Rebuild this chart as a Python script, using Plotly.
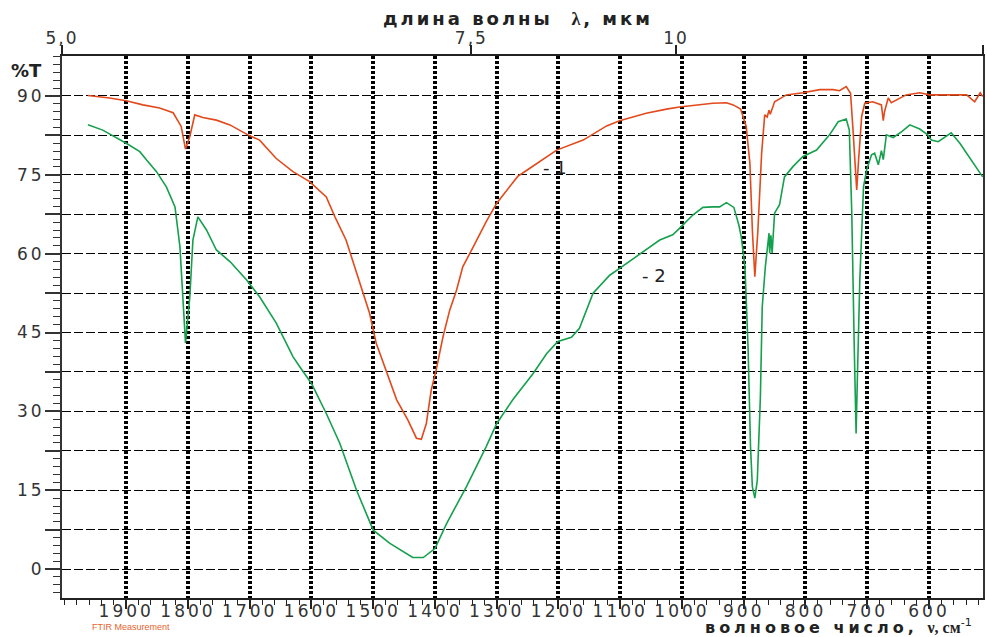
import plotly.graph_objects as go

# Wavenumber axis (cm^-1) and transmittance (%T) for the two spectra
nu_1 = [1962, 1945, 1927, 1900, 1873, 1846, 1824, 1811, 1804, 1797, 1789, 1776,
        1754, 1732, 1703, 1684, 1657, 1630, 1603, 1576, 1562, 1544, 1525, 1506,
        1495, 1479, 1462, 1444, 1430, 1422, 1414, 1406, 1398, 1387, 1376, 1365,
        1355, 1338, 1317, 1300, 1266, 1247, 1203, 1160, 1122, 1101, 1058, 1025,
        1004, 950, 928, 917, 905, 896, 890, 886, 882, 877, 871, 866, 862, 859,
        857, 850, 831, 804, 777, 755, 745, 734, 727, 723, 720, 717, 714, 709,
        704, 691, 677, 674, 672, 666, 661, 637, 615, 599, 572, 539, 526, 517, 513]
t_1 = [90.1, 89.9, 89.6, 89.1, 88.3, 87.7, 86.8, 84.2, 79.9, 82.3, 86.4, 85.9,
       85.4, 84.5, 82.6, 81.6, 78.1, 75.6, 73.7, 70.8, 67.0, 62.6, 55.6, 48.7,
       42.9, 37.9, 32.2, 28.4, 24.9, 24.7, 27.7, 34.1, 37.9, 44.2, 49.3, 53.1,
       57.5, 61.3, 66.1, 69.6, 74.7, 76.2, 79.7, 81.6, 84.3, 85.3, 86.7, 87.5,
       87.9, 88.6, 88.7, 88.3, 87.5, 84.2, 77.2, 64.5, 55.6, 64.5, 79.1, 86.4, 86.0, 87.3,
       86.5, 88.9, 90.2, 90.6, 91.2, 91.2, 91.0, 91.8, 90.5, 83.5, 77.2, 72.1, 77.8, 86.1,
       88.6, 88.9, 88.3, 85.3, 87.0, 89.6, 88.7, 90.2, 90.6, 90.2, 90.2, 90.2, 88.9, 90.6, 89.9]

nu_2 = [1962, 1938, 1900, 1878, 1867, 1851, 1835, 1821, 1813, 1808, 1804, 1797,
        1792, 1784, 1770, 1754, 1732, 1705, 1684, 1657, 1630, 1619, 1600, 1576,
        1554, 1527, 1500, 1473, 1436, 1419, 1400, 1381, 1349, 1317, 1300, 1274,
        1241, 1219, 1201, 1179, 1166, 1144, 1117, 1101, 1063, 1036, 1015, 1004,
        982, 966, 950, 939, 928, 916, 908, 904, 898, 893, 889, 886, 882, 878, 873,
        870, 865, 859, 858, 856, 854, 850, 842, 834, 820, 804, 782, 761, 747, 734,
        729, 725, 721, 718, 716, 712, 706, 701, 693, 688, 682, 677, 674, 669, 658,
        644, 631, 615, 602, 596, 585, 564, 550, 529, 513]
t_2 = [84.5, 83.5, 81.0, 79.4, 77.8, 75.6, 72.7, 68.9, 61.3, 51.8, 43.0, 51.8,
       62.6, 67.0, 64.5, 60.7, 58.5, 55.0, 51.8, 46.8, 40.4, 38.5, 35.3, 29.6,
       23.9, 15.0, 7.4, 4.9, 2.2, 2.2, 3.9, 8.7, 15.7, 23.3, 27.7, 32.2,
       37.2, 41.0, 43.3, 44.1, 45.8, 52.5, 55.9, 57.2, 60.4, 62.6, 63.6, 64.8,
       67.4, 68.8, 68.9, 68.9, 69.7, 68.8, 65.5, 63.2, 57.5, 42.3, 23.3, 15.7, 13.5, 16.9, 32.8,
       49.9, 57.5, 63.9, 60.1, 63.5, 60.1, 67.7, 69.3, 74.6, 76.6, 78.5, 79.7, 82.6, 85.1, 85.6,
       83.5, 67.7, 42.3, 25.8, 36.0, 55.0, 72.7, 75.9, 78.8, 79.1, 76.9, 79.6, 77.9, 82.6, 82.1,
       83.2, 84.5, 83.7, 82.6, 81.6, 81.3, 83.0, 81.0, 77.5, 74.6]

# Axis ticks
nu_ticks = list(range(1900, 500, -100))
t_ticks = [i * 7.5 for i in range(13)]
lambda_um = [5.0, 7.5, 10, 20]
lambda_labels = ["5,0", "7,5", "10", "20"]


def spaced(s, px):
    """Wrap a label so its glyphs are drawn with extra tracking."""
    return f"<span style='letter-spacing:{px}px'>{s}</span>" if s else ""


nu_labels = [spaced(str(v), 3) for v in nu_ticks]
t_labels = [spaced(str(int(v)), 3) if i % 2 == 0 else "" for i, v in enumerate(t_ticks)]
lambda_text = [spaced(s, 2) for s in lambda_labels]

ORANGE = "#E24A1C"
GREEN = "#14A04C"
TICK_FONT = dict(family="DejaVu Sans", size=17, color="#333333")

fig = go.Figure()
fig.add_trace(go.Scatter(x=nu_1, y=t_1, mode="lines",
                         line=dict(color=ORANGE, width=1.6), showlegend=False))
fig.add_trace(go.Scatter(x=nu_2, y=t_2, mode="lines",
                         line=dict(color=GREEN, width=1.6), showlegend=False))

fig.update_layout(
    width=987, height=637,
    margin=dict(l=62, r=4, t=56, b=39),
    paper_bgcolor="white", plot_bgcolor="white",
    xaxis=dict(
        range=[2004, 512.5], tickvals=nu_ticks, ticktext=nu_labels,
        ticks="outside", ticklen=9,
        tickwidth=1.5, tickcolor="#222", tickfont=TICK_FONT,
        ticklabelstandoff=-12,
        showline=True, linecolor="#222", linewidth=2,
        showgrid=True, gridcolor="black", gridwidth=3.5, griddash="3px,2px",
        minor=dict(dtick=20, tick0=0, ticks="outside", ticklen=5,
                   tickcolor="#222", tickwidth=1.2, showgrid=False),
        zeroline=False, automargin=False,
    ),
    xaxis2=dict(
        overlaying="x", side="top", anchor="y",
        range=[2000, 500], tickvals=[1e4 / v for v in lambda_um],
        ticktext=lambda_text, ticks="outside", ticklen=9, tickwidth=1.5,
        tickcolor="#222", tickfont=TICK_FONT, ticklabelstandoff=-6,
        showline=True, linecolor="#222", linewidth=1.5, showgrid=False,
        zeroline=False, automargin=False,
    ),
    yaxis=dict(
        range=[-5.5, 97.6], tickvals=t_ticks, ticktext=t_labels,
        ticks="outside", ticklen=15, tickwidth=1.5, tickcolor="#333",
        tickfont=TICK_FONT, ticklabelstandoff=-3,
        showline=True, linecolor="#333", linewidth=2,
        mirror=True,
        showgrid=True, gridcolor="black", gridwidth=1.2, griddash="9px,3px",
        minor=dict(dtick=1.5, tick0=0, ticks="outside", ticklen=7,
                   tickcolor="#333", tickwidth=1.2, showgrid=False),
        zeroline=False, automargin=False,
    ),
)

# Top-axis needs a trace bound to it so it is drawn
fig.add_trace(go.Scatter(x=[], y=[], xaxis="x2", yaxis="y", showlegend=False,
                         hoverinfo="skip"))

fig.add_annotation(text="<b><span style='letter-spacing:3px'>длина волны  "
                        "<span style='font-family:Liberation Serif'>λ</span>, мкм</span></b>",
                   xref="paper", yref="paper", x=0.495, y=1.070, yanchor="middle",
                   showarrow=False, font=dict(family="DejaVu Sans", size=18, color="#222"))
fig.add_annotation(text="<b><span style='letter-spacing:4px'>волновое число, </span>"
                        "<span style='font-family:Liberation Serif'>ν, см</span></b><sup>-1</sup>",
                   xref="paper", yref="paper", x=0.99, y=-0.052, xanchor="right",
                   yanchor="middle",
                   showarrow=False, font=dict(family="DejaVu Sans", size=16, color="#222"))
fig.add_annotation(text="<b>%T</b>", xref="paper", yref="paper", x=-0.058, y=0.974,
                   xanchor="left", yanchor="middle", showarrow=False,
                   font=dict(family="DejaVu Sans", size=18, color="#222"))
fig.add_annotation(text="FTIR Measurement", xref="paper", yref="paper", x=0.030, y=-0.054,
                   xanchor="left", yanchor="middle", showarrow=False,
                   font=dict(family="Liberation Sans", size=9, color="#E8642F"))
fig.add_annotation(text="- 1", x=1228, y=76.3, xanchor="left", yanchor="middle",
                   showarrow=False,
                   font=dict(family="DejaVu Sans", size=18, color="#222"))
fig.add_annotation(text="- 2", x=1068, y=55.8, xanchor="left", yanchor="middle",
                   showarrow=False,
                   font=dict(family="DejaVu Sans", size=18, color="#222"))

fig.write_html("out.html")
